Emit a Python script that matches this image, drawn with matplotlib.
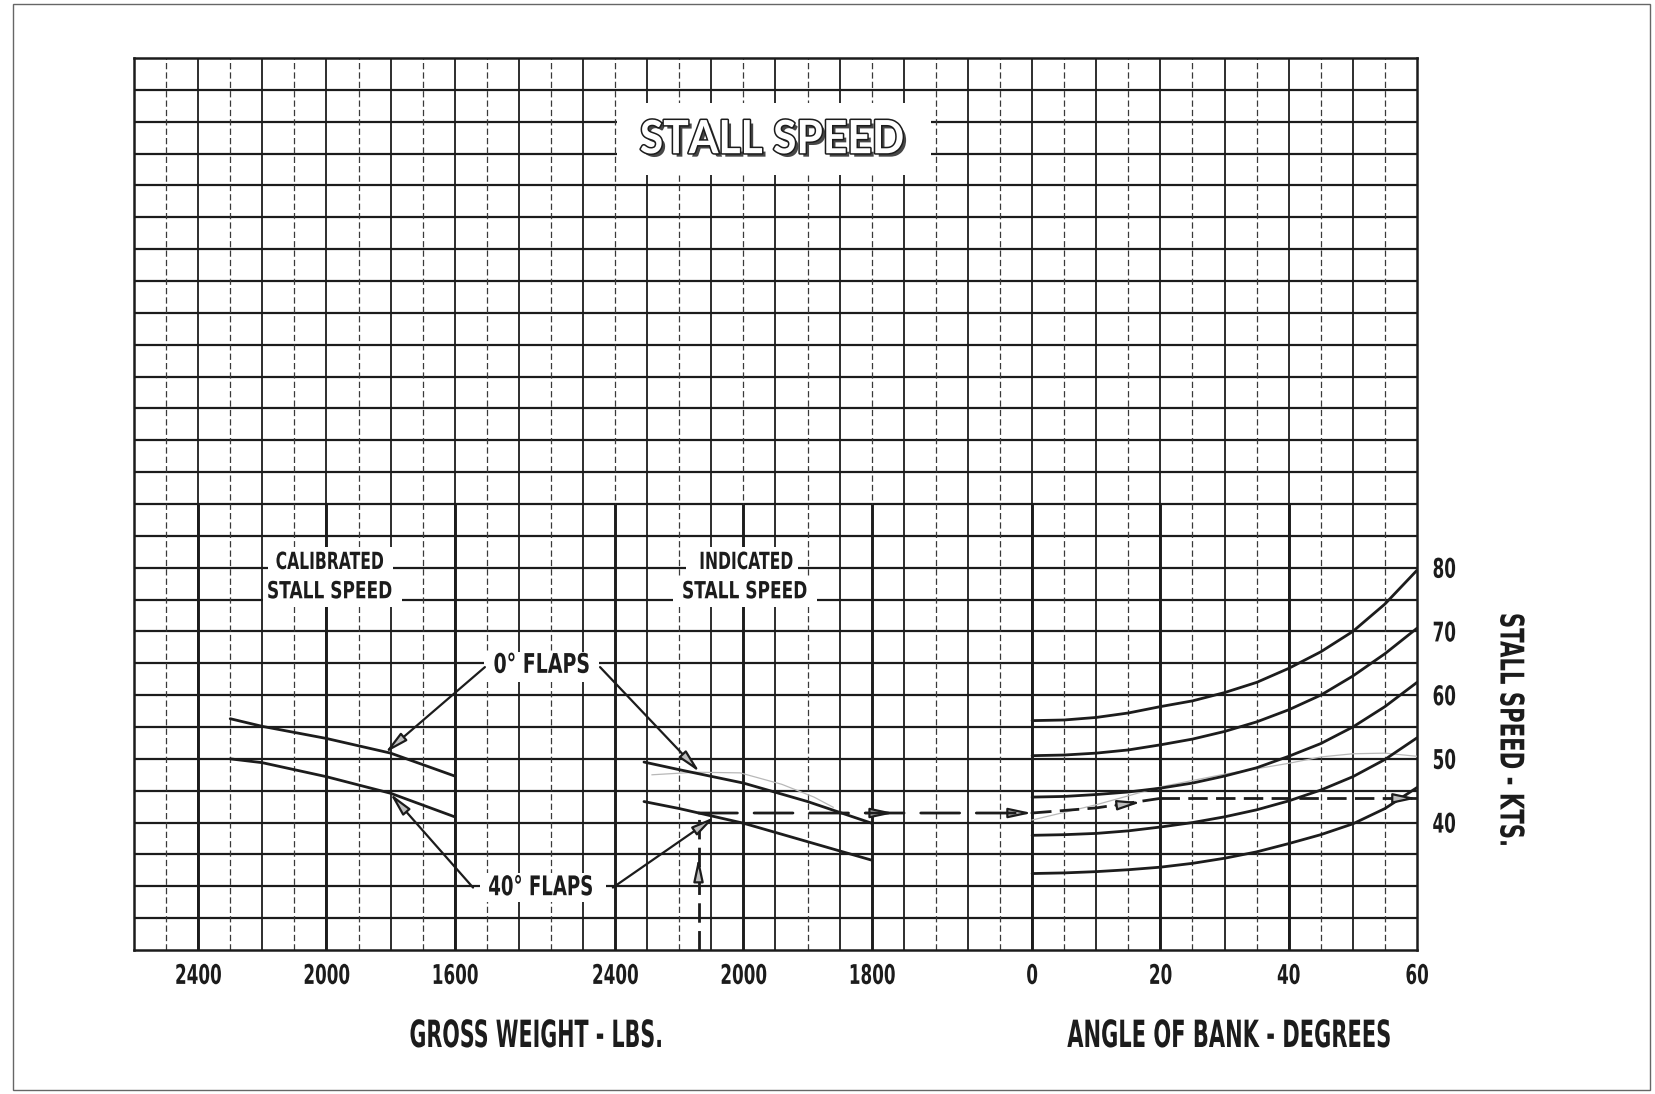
import matplotlib
matplotlib.use('Agg')
import matplotlib.pyplot as plt
import matplotlib.patheffects as pe
from matplotlib.patches import Rectangle, ConnectionPatch
from matplotlib.transforms import Affine2D

# --- values ---
# calibrated stall speed vs gross weight (kts)
cal_weight = [2300, 2200, 2000, 1800, 1600]
cal_0flap = [56.3, 55.1, 53.2, 50.9, 47.3]
cal_40flap = [50.0, 49.4, 47.2, 44.6, 40.9]

# indicated stall speed vs gross weight (kts)
ind_weight = [2310, 2200, 2000, 1800, 1600]
ind_0flap = [49.5, 48.3, 46.2, 43.3, 39.9]
ind_40flap = [43.3, 42.2, 39.9, 37.0, 34.1]

# angle of bank family (kts)
bank_angle = [0, 5, 10, 15, 20, 25, 30, 35, 40, 45, 50, 55, 60]
bank_56 = [56.0, 56.1, 56.5, 57.2, 58.2, 59.1, 60.4, 62.0, 64.2, 66.8, 70.0, 74.3, 79.6]
bank_50 = [50.5, 50.6, 50.9, 51.4, 52.2, 53.1, 54.3, 55.8, 57.7, 60.0, 63.0, 66.5, 70.5]
bank_44 = [44.0, 44.1, 44.4, 44.8, 45.4, 46.2, 47.3, 48.6, 50.4, 52.4, 55.0, 58.2, 62.0]
bank_38 = [38.0, 38.1, 38.3, 38.7, 39.3, 40.0, 40.9, 42.0, 43.4, 45.1, 47.2, 49.9, 53.3]
bank_32 = [32.0, 32.1, 32.3, 32.6, 33.0, 33.6, 34.4, 35.4, 36.7, 38.1, 39.8, 42.2, 45.5]

# worked example (dashed)
ex_weight = 2140
ex_ind_speed = 41.5
ex_guide_bank = [0, 10, 20]
ex_guide_speed = [41.5, 42.3, 43.8]

# faint pencil marks on the original
pencil_ind_weight = [2285, 2150, 2010, 1880, 1780, 1720]
pencil_ind_speed = [47.5, 47.9, 47.8, 46.0, 44.0, 42.4]
pencil_bank = [0, 10, 20, 30, 40, 45, 50, 55, 60]
pencil_bank_speed = [40.4, 42.8, 45.6, 47.6, 49.3, 50.3, 50.8, 50.9, 50.4]

weight_ticks = [2400, 2000, 1600]
cal_tick_labels = ['2400', '2000', '1600']
ind_tick_labels = ['2400', '2000', '1800']
bank_ticks = [0, 20, 40, 60]
speed_ticks = [40, 50, 60, 70, 80]

# grid paper layout: 40 columns, 28 rows of 5 kts
N_CELLS = 40
Y_MIN, Y_MAX, Y_STEP = 20, 160, 5
CAL_ORIGIN = 2     # column of 2400 lbs (calibrated)
IND_ORIGIN = 15    # column of 2400 lbs (indicated)
BANK_ORIGIN = 28   # column of 0 deg bank
LBS_PER_CELL = 100
DEG_PER_CELL = 5

INK = '#1c1c1c'
FONT = ['DejaVu Sans']


class Condensed(pe.AbstractPathEffect):
    # squeeze the glyphs sideways, the original lettering is a narrow stencil face
    def __init__(self, sx, effects=None):
        super().__init__()
        self.sx = sx
        self.effects = effects or [pe.Normal()]

    def draw_path(self, renderer, gc, tpath, affine, rgbFace=None):
        ext = tpath.get_extents()
        cx = (ext.x0 + ext.x1) / 2
        squeeze = Affine2D().translate(-cx, 0).scale(self.sx, 1).translate(cx, 0)
        for eff in self.effects:
            eff.draw_path(renderer, gc, tpath, squeeze + affine, rgbFace)


fig = plt.figure(figsize=(16.56, 10.94), dpi=100)
fig.patch.set_facecolor('white')
pos = [134/1656, 1-950/1094, 1283/1656, 892/1094]

# outer frame of the scanned page
fig.add_artist(Rectangle((13/1656, 1-1090/1094), 1637/1656, 1086/1094,
                         transform=fig.transFigure, fill=False, ec='#666', lw=1.0))

# --- base axes: the graph paper ---
ax = fig.add_axes(pos, label='paper')
ax.set_xlim(0, N_CELLS)
ax.set_ylim(Y_MIN, Y_MAX)
ax.set_xticks([]); ax.set_yticks([])
for s in ax.spines.values():
    s.set_linewidth(1.8); s.set_color(INK)

for k in range(1, (Y_MAX - Y_MIN)//Y_STEP):
    ax.axhline(Y_MIN + k*Y_STEP, color=INK, lw=1.6, zorder=1)
for c in range(1, N_CELLS):
    if c % 2 == 0:
        ax.axvline(c, color=INK, lw=1.3, zorder=1)
    else:
        ax.axvline(c, color='#3a3a3a', lw=0.9, ls=(0, (5, 2.5)), zorder=1)

# heavier rulings at the labelled values in the lower part
bold_cols = [CAL_ORIGIN + (2400 - w)/LBS_PER_CELL for w in weight_ticks]
bold_cols += [IND_ORIGIN + (2400 - w)/LBS_PER_CELL for w in weight_ticks]
bold_cols += [BANK_ORIGIN + b/DEG_PER_CELL for b in bank_ticks[:-1]]
ax.vlines(bold_cols, Y_MIN, 90, color=INK, lw=2.1, zorder=2)

# white patches where the lettering was pasted onto the paper
masks = [(15.05, 141.6, 9.8, 11.3),              # title
         (4.18, 78.4, 3.9, 4.8), (4.02, 73.9, 4.33, 4.5),     # calibrated
         (17.2, 78.4, 3.5, 4.8), (16.8, 73.9, 4.5, 4.5),      # indicated
         (10.9, 62.1, 3.6, 4.7),                 # 0 deg flaps
         (10.8, 27.5, 3.9, 4.6)]                 # 40 deg flaps
for x0, y0, w, h in masks:
    ax.add_patch(Rectangle((x0, y0), w, h, fc='white', ec='none', zorder=3))

ax.text(19.9, 147.1, 'STALL SPEED', ha='center', va='center', fontsize=33,
        fontweight='bold', family=['Lato', 'DejaVu Sans'], color='white', zorder=4,
        path_effects=[Condensed(0.93, [pe.SimplePatchShadow(offset=(2.5, -2.5),
                                                            shadow_rgbFace='#333', alpha=0.9),
                                       pe.Stroke(linewidth=2.2, foreground=INK),
                                       pe.Normal()])])

# --- data axes, one per panel, overlaid on the paper ---
def panel_axes(name, xlim):
    a = fig.add_axes(pos, label=name)
    a.set_facecolor('none')
    a.set_xlim(*xlim)
    a.set_ylim(Y_MIN, Y_MAX)
    for s in a.spines.values():
        s.set_visible(False)
    a.tick_params(length=0, pad=10)
    a.set_yticks([])
    return a

ax_cal = panel_axes('cal', (2400 + CAL_ORIGIN*LBS_PER_CELL,
                            2400 - (N_CELLS - CAL_ORIGIN)*LBS_PER_CELL))
ax_ind = panel_axes('ind', (2400 + IND_ORIGIN*LBS_PER_CELL,
                            2400 - (N_CELLS - IND_ORIGIN)*LBS_PER_CELL))
ax_bank = panel_axes('bank', (-BANK_ORIGIN*DEG_PER_CELL,
                              (N_CELLS - BANK_ORIGIN)*DEG_PER_CELL))

tick_font = dict(fontsize=19.5, fontweight='bold', family=FONT, color=INK,
                 path_effects=[Condensed(0.62)])
ax_cal.set_xticks(weight_ticks, cal_tick_labels, **tick_font)
ax_ind.set_xticks(weight_ticks, ind_tick_labels, **tick_font)
ax_bank.set_xticks(bank_ticks, [str(b) for b in bank_ticks], **tick_font)
ax_bank.yaxis.tick_right()
ax_bank.set_yticks(speed_ticks, [str(v) for v in speed_ticks], **tick_font)
ax_bank.tick_params(axis='y', length=0, pad=6)

curve_kw = dict(color=INK, lw=2.0, solid_capstyle='round', zorder=5)
ax_cal.plot(cal_weight, cal_0flap, **curve_kw)
ax_cal.plot(cal_weight, cal_40flap, **curve_kw)
ax_ind.plot(ind_weight, ind_0flap, **curve_kw)
ax_ind.plot(ind_weight, ind_40flap, **curve_kw)
for curve in [bank_56, bank_50, bank_44, bank_38, bank_32]:
    ax_bank.plot(bank_angle, curve, **curve_kw)

# faint pencil traces
ax_ind.plot(pencil_ind_weight, pencil_ind_speed, color='#b8b8b8', lw=0.9, zorder=4)
ax_bank.plot(pencil_bank, pencil_bank_speed, color='#b8b8b8', lw=0.9, zorder=4)

# --- panel labels ---
def label(a, x, y, s, size, sx):
    a.text(x, y, s, fontsize=size, fontweight='bold', family=FONT, color=INK,
           ha='center', va='center', zorder=6, path_effects=[Condensed(sx)])

label(ax_cal, 1990, 80.9, 'CALIBRATED', 17, 0.66)
label(ax_cal, 1990, 76.3, 'STALL SPEED', 17, 0.72)
label(ax_ind, 1992, 80.9, 'INDICATED', 17, 0.66)
label(ax_ind, 1996, 76.3, 'STALL SPEED', 17, 0.72)
label(ax_cal, 1328, 64.6, '0° FLAPS', 19.5, 0.7)
label(ax_cal, 1331, 29.7, '40° FLAPS', 19.5, 0.67)

arrow_kw = dict(arrowstyle='-|>,head_length=1.4,head_width=0.3', color=INK, lw=1.6,
                fc='#bdbdbd', shrinkA=0, shrinkB=0)
ax_cal.annotate('', xy=(1818, 50.9), xytext=(1506, 64.4), arrowprops=arrow_kw, zorder=7)
ax_ind.annotate('', xy=(2136, 47.9), xytext=(2447, 64.4), arrowprops=arrow_kw, zorder=7)
ax_cal.annotate('', xy=(1802, 44.6), xytext=(1543, 29.8), arrowprops=arrow_kw, zorder=7)
ax_ind.annotate('', xy=(2089, 40.9), xytext=(2407, 29.8), arrowprops=arrow_kw, zorder=7)

# --- worked example, dashed ---
dash_kw = dict(color=INK, lw=2.0, dashes=(7, 3), zorder=6)
ax_ind.plot([ex_weight, ex_weight], [Y_MIN, ex_ind_speed], **dash_kw)
fig.add_artist(ConnectionPatch(xyA=(ex_weight, ex_ind_speed), coordsA=ax_ind.transData,
                               xyB=(ex_guide_bank[0], ex_ind_speed), coordsB=ax_bank.transData,
                               color=INK, lw=2.0, linestyle=(0, (14, 6)), zorder=6))
ax_bank.plot(ex_guide_bank, ex_guide_speed, **dash_kw)
ax_bank.plot([ex_guide_bank[-1], bank_angle[-1]], [ex_guide_speed[-1], ex_guide_speed[-1]], **dash_kw)

ax_ind.annotate('', xy=(ex_weight, 34.5), xytext=(ex_weight, 31.5), arrowprops=arrow_kw, zorder=7)
ax_ind.annotate('', xy=(1530, ex_ind_speed), xytext=(1620, ex_ind_speed), arrowprops=arrow_kw, zorder=7)
ax_bank.annotate('', xy=(0, ex_ind_speed), xytext=(-4, ex_ind_speed), arrowprops=arrow_kw, zorder=7)
ax_bank.annotate('', xy=(17, 43.2), xytext=(13, 42.7), arrowprops=arrow_kw, zorder=7)
ax_bank.annotate('', xy=(60, ex_guide_speed[-1]), xytext=(56, ex_guide_speed[-1]),
                 arrowprops=arrow_kw, zorder=7, annotation_clip=False)

# --- axis titles ---
axis_font = dict(fontsize=27, fontweight='bold', family=FONT, color=INK,
                 ha='center', va='center')
fig.text(537/1656, 1-1037/1094, 'GROSS WEIGHT - LBS.',
         path_effects=[Condensed(0.55)], **axis_font)
fig.text(1230/1656, 1-1037/1094, 'ANGLE OF BANK - DEGREES',
         path_effects=[Condensed(0.56)], **axis_font)
fig.text(1510/1656, 1-730/1094, 'STALL SPEED - KTS.', rotation=-90,
         path_effects=[Condensed(0.65)], **dict(axis_font, fontsize=23.5))

fig.savefig('out.png', dpi=100, facecolor='white')
